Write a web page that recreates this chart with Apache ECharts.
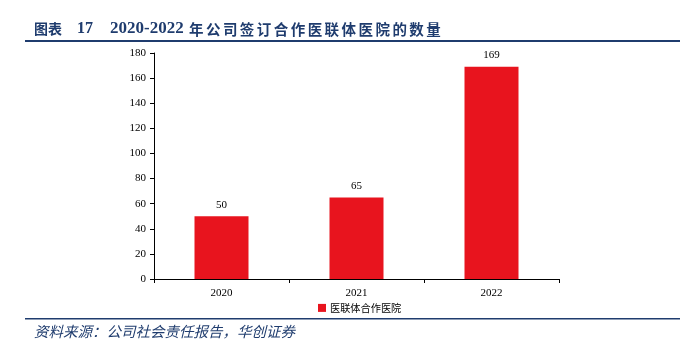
<!DOCTYPE html>
<html>
<head>
<meta charset="utf-8">
<script src="https://cdn.jsdelivr.net/npm/echarts@6/dist/echarts.min.js"></script>
<style>
  html, body { margin: 0; padding: 0; background: #fff; }
  #chart { width: 698px; height: 349px; }
</style>
</head>
<body>
<div id="chart"></div>
<script>
// Hospital alliances signed per year
const years = ['2020', '2021', '2022'];
const allianceCounts = [50, 65, 169];
const seriesName = '医联体合作医院';
const yTicks = { min: 0, max: 180, interval: 20 };

const chart = echarts.init(document.getElementById('chart'));
const serif = '"Liberation Serif", "Times New Roman", serif';
const cjk = '"Noto Sans CJK SC", sans-serif';
const blue = '#1f3c6e';

// Header: label, number, year range, then evenly spaced CJK heading characters
const header = [
  { type: 'text', x: 34, y: 29, style: { text: '图表', font: 'bold 14px ' + cjk, fill: blue, verticalAlign: 'middle' } },
  { type: 'text', x: 77, y: 29, style: { text: '17', font: 'bold 16px ' + serif, fill: blue, verticalAlign: 'middle' } },
  { type: 'text', x: 110, y: 29, style: { text: '2020-2022', font: 'bold 17px ' + serif, fill: blue, verticalAlign: 'middle' } }
];
const headingChars = '年公司签订合作医联体医院的数量';
Array.from(headingChars).forEach((ch, i) => {
  header.push({ type: 'text', x: 189 + i * 16.95, y: 29,
    style: { text: ch, font: 'bold 14.5px ' + cjk, fill: blue, verticalAlign: 'middle' } });
});

chart.setOption({
  animation: false,
  graphic: header.concat([
    { type: 'rect', shape: { x: 25, y: 40, width: 655, height: 2 }, style: { fill: blue } },
    { type: 'rect', shape: { x: 25, y: 318, width: 655, height: 1.5 }, style: { fill: blue } },
    { type: 'text', left: 34, top: 324,
      style: { text: '资料来源：公司社会责任报告，华创证券',
               font: 'italic 14.5px ' + cjk, fill: blue } }
  ]),
  grid: { left: 154, right: 139, top: 53, bottom: 70 },
  legend: {
    bottom: 31, left: 313,
    itemWidth: 8, itemHeight: 8, icon: 'rect', itemGap: 4,
    textStyle: { fontSize: 10.2, color: '#000', fontFamily: cjk, padding: [0, 0, 0, -1] },
    data: [seriesName]
  },
  xAxis: {
    type: 'category', data: years,
    axisLine: { lineStyle: { color: '#000' } },
    axisTick: { show: true, alignWithLabel: false, length: 4, lineStyle: { color: '#000' } },
    axisLabel: { color: '#000', fontFamily: serif, fontSize: 11, margin: 9 }
  },
  yAxis: {
    type: 'value', min: yTicks.min, max: yTicks.max, interval: yTicks.interval,
    axisLine: { show: true, lineStyle: { color: '#000' } },
    axisTick: { show: true, length: 4, inside: false, lineStyle: { color: '#000' } },
    splitLine: { show: false },
    axisLabel: { color: '#000', fontFamily: serif, fontSize: 11, margin: 8 }
  },
  series: [{
    name: seriesName, type: 'bar', data: allianceCounts,
    barWidth: '40%',
    itemStyle: { color: '#e8141e' },
    label: { show: true, position: 'top', color: '#000', fontFamily: serif, fontSize: 11, distance: 6 }
  }]
});
</script>
</body>
</html>
